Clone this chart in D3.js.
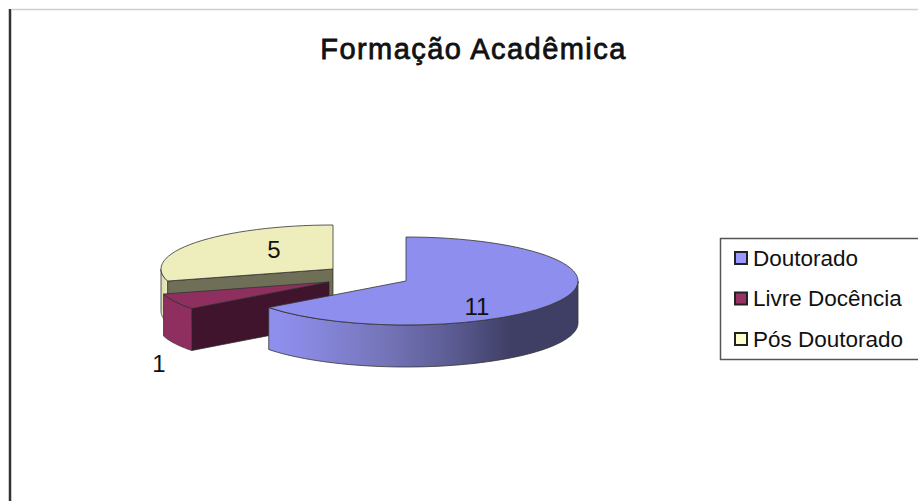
<!DOCTYPE html>
<html>
<head>
<meta charset="utf-8">
<title>Formação Acadêmica</title>
<script src="https://cdn.jsdelivr.net/npm/d3@7"></script>
<style>
html, body { margin: 0; padding: 0; background: #fff; }
svg { display: block; }
text { font-family: "Liberation Sans", Arial, sans-serif; fill: #111; }
</style>
</head>
<body>
<svg id="chart" width="918" height="501"></svg>
<script>
const categories = ['Doutorado', 'Livre Docência', 'Pós Doutorado'];
const values = [11, 1, 5];
const swatchColors = ['#9999ff', '#993366', '#ffffcc'];
const topColors = ['#8e8eee', '#8f2f5f', '#eeeebd'];
const cutColors = ['#3f3f66', '#3f142c', '#6f6f58'];
const centers = [[406, 281], [329, 282], [333, 269]];
const labelPos = [[477, 306], [159, 363], [274, 249]];

const rx = 172, ry = 44, depth = 42;

const svg = d3.select('#chart');
const defs = svg.append('defs');

function gradient(id, x1, x2, stops) {
    let g = defs.append('linearGradient')
        .attr('id', id)
        .attr('gradientUnits', 'userSpaceOnUse')
        .attr('x1', x1).attr('x2', x2)
        .attr('y1', 0).attr('y2', 0);
    stops.forEach(s => g.append('stop').attr('offset', s[0]).attr('stop-color', s[1]));
}
gradient('wall0', 268, 578, [[0, '#8f8fee'], [0.08, '#8c8ce8'], [0.36, '#7676bc'], [0.59, '#5c5c94'], [0.78, '#3f3f66'], [1, '#3f3f66']]);
gradient('wall1', 164, 192, [[0, '#8f2f5f'], [1, '#8f2f5f']]);
gradient('wall2', 160, 168, [[0, '#d8d8aa'], [1, '#eeeebd']]);

// frame left over from the slide
svg.append('line').attr('x1', 12).attr('x2', 918).attr('y1', 9.5).attr('y2', 9.5)
    .attr('stroke', '#cfcfcf').attr('stroke-width', 1.5);
svg.append('line').attr('x1', 10).attr('x2', 10).attr('y1', 9).attr('y2', 501)
    .attr('stroke', '#333').attr('stroke-width', 2.5);

svg.append('text')
    .attr('x', 473.5).attr('y', 58.5)
    .attr('text-anchor', 'middle')
    .attr('font-size', 29)
    .attr('letter-spacing', 1.45)
    .attr('stroke', '#111').attr('stroke-width', 0.8)
    .text('Formação Acadêmica');

const arcs = d3.pie().sort(null)(values);
const arcGen = d3.arc().innerRadius(0).outerRadius(rx);

function ellipseX(c, a) { return c[0] + rx * Math.sin(a); }
function ellipseY(c, a) { return c[1] - ry * Math.cos(a); }

// outer wall between two angles, follows the ellipse and comes back one depth lower
function wallPath(c, a0, a1) {
    let angles = d3.range(0, 61).map(i => a0 + (a1 - a0) * i / 60);
    let top = angles.map(a => [ellipseX(c, a), ellipseY(c, a)]);
    let bottom = angles.slice().reverse().map(a => [ellipseX(c, a), ellipseY(c, a) + depth]);
    return d3.line()(top.concat(bottom)) + 'Z';
}

// the face left by the cut at angle a, from the centre out to the rim
function cutPath(c, a) {
    let x = ellipseX(c, a), y = ellipseY(c, a);
    return d3.line()([[c[0], c[1]], [x, y], [x, y + depth], [c[0], c[1] + depth]]) + 'Z';
}

function drawSlice(i, walls, cutAngle) {
    let c = centers[i], d = arcs[i];
    let g = svg.append('g').attr('class', 'slice');
    if (cutAngle !== null) {
        g.append('path').attr('d', cutPath(c, cutAngle))
            .attr('fill', cutColors[i])
            .attr('stroke', '#222').attr('stroke-width', 0.7);
    }
    walls.forEach(w => {
        g.append('path').attr('d', wallPath(c, w[0], w[1]))
            .attr('fill', `url(#wall${i})`)
            .attr('stroke', '#333').attr('stroke-width', 0.8);
    });
    g.append('path')
        .attr('transform', `translate(${c[0]},${c[1]}) scale(1,${ry / rx})`)
        .attr('d', arcGen(d))
        .attr('fill', topColors[i])
        .attr('stroke', '#333').attr('stroke-width', 0.8)
        .attr('vector-effect', 'non-scaling-stroke');
}

// back to front
drawSlice(2, [[arcs[2].startAngle, 1.5 * Math.PI]], arcs[2].startAngle);
drawSlice(1, [[arcs[1].startAngle, arcs[1].endAngle]], arcs[1].startAngle);
drawSlice(0, [[Math.PI / 2, arcs[0].endAngle]], null);

values.forEach((v, i) => {
    svg.append('text')
        .attr('x', labelPos[i][0]).attr('y', labelPos[i][1])
        .attr('text-anchor', 'middle')
        .attr('dominant-baseline', 'central')
        .attr('font-size', 24)
        .text(v);
});

// legend
svg.append('rect')
    .attr('x', 720.5).attr('y', 238.5)
    .attr('width', 205).attr('height', 121)
    .attr('fill', '#fff')
    .attr('stroke', '#555').attr('stroke-width', 1.5);

const legendY = d3.scalePoint().domain(categories).range([258, 339]);

categories.forEach((name, i) => {
    svg.append('rect')
        .attr('x', 735).attr('y', legendY(name) - 6)
        .attr('width', 12).attr('height', 12)
        .attr('fill', swatchColors[i])
        .attr('stroke', '#222').attr('stroke-width', 2);
    svg.append('text')
        .attr('x', 753).attr('y', legendY(name))
        .attr('dominant-baseline', 'central')
        .attr('font-size', 22.5)
        .text(name);
});
</script>
</body>
</html>
